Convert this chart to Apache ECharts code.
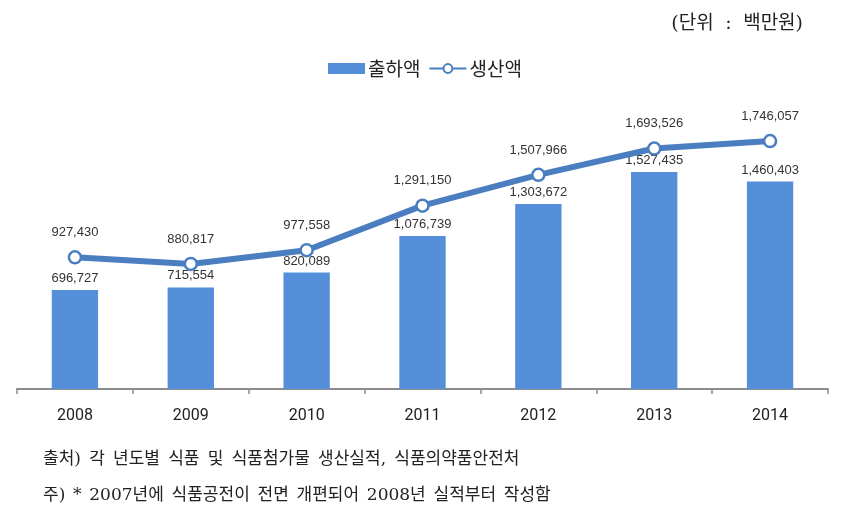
<!DOCTYPE html>
<html><head><meta charset="utf-8">
<script src="https://cdn.jsdelivr.net/npm/echarts@6/dist/echarts.min.js"></script>
<style>html,body{margin:0;padding:0;background:#fff}#c{width:864px;height:514px}</style>
</head><body><div id="c"></div>
<script>
const years = ['2008','2009','2010','2011','2012','2013','2014'];
const shipment = [696727, 715554, 820089, 1076739, 1303672, 1527435, 1460403];
const production = [927430, 880817, 977558, 1291150, 1507966, 1693526, 1746057];
const unitText = '(단위 : 백만원)';
const sourceText = '출처) 각 년도별 식품 및 식품첨가물 생산실적, 식품의약품안전처';
const noteText = '주) * 2007년에 식품공전이 전면 개편되어 2008년 실적부터 작성함';

// wide spaces like the serif original: spaces become rich tokens
const widen = s => s.split(' ').join('{sp| }');
const serif = '"DejaVu Serif", "Noto Sans CJK KR"';

const fmt = v => v.value.toLocaleString('en-US');
const chart = echarts.init(document.getElementById('c'));
chart.setOption({
  animation: false,
  backgroundColor: '#fff',
  legend: {
    top: 54, left: 323, itemGap: 8, itemWidth: 37, itemHeight: 11,
    textStyle: { fontFamily: 'Noto Sans CJK KR', fontSize: 19, color: '#222', padding: [0, 0, 0, -2] },
    data: [
      { name: '출하액', icon: 'rect' },
      { name: '생산액' }
    ]
  },
  grid: { left: 17, right: 36, top: 105, bottom: 125 },
  xAxis: {
    type: 'category', data: years,
    axisLine: { lineStyle: { color: '#8c8c8c', width: 2 } },
    axisTick: { show: true, length: 5, lineStyle: { color: '#8c8c8c', width: 1.5 } },
    axisLabel: { margin: 19, fontFamily: 'Roboto', fontSize: 16, color: '#222' }
  },
  yAxis: { type: 'value', min: 0, max: 2000000, show: false, splitLine: { show: false } },
  series: [
    {
      name: '출하액', type: 'bar', data: shipment, barWidth: '40%',
      itemStyle: { color: '#558ED9' },
      label: { show: true, position: 'top', distance: 5, formatter: fmt,
        fontFamily: 'Liberation Sans', fontSize: 13, color: '#333' }
    },
    {
      name: '생산액', type: 'line', data: production,
      lineStyle: { color: '#4A7EC0', width: 6 },
      itemStyle: { color: '#fff', borderColor: '#4A7EC0', borderWidth: 2.5 },
      symbol: 'circle', symbolSize: 12, z: 5,
      label: { show: true, position: 'top', distance: 11, formatter: fmt,
        fontFamily: 'Liberation Sans', fontSize: 13, color: '#333' }
    }
  ],
  graphic: [
    { type: 'text', right: 61, top: 1, style: { text: widen(unitText), font: '19px ' + serif, fill: '#222',
        rich: { sp: { fontFamily: 'Liberation Serif', fontSize: 46, lineHeight: 22 } } } },
    { type: 'text', left: 43, top: 443, style: { text: widen(sourceText), font: '17px ' + serif, fill: '#222',
        rich: { sp: { fontFamily: 'Liberation Serif', fontSize: 33, lineHeight: 20 } } } },
    { type: 'text', left: 43, top: 480, style: { text: widen(noteText), font: '17px ' + serif, fill: '#222',
        rich: { sp: { fontFamily: 'Liberation Serif', fontSize: 31, lineHeight: 20 } } } }
  ]
});
</script></body></html>
